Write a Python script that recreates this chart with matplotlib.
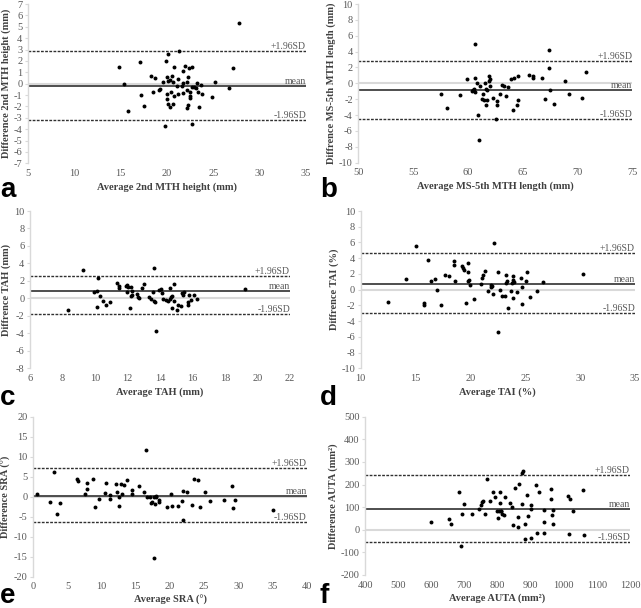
import matplotlib
matplotlib.use("Agg")
import matplotlib.pyplot as plt

plt.rcParams["axes.unicode_minus"] = False

# ---- panel a: 2nd MTH height ----
a_avg = [27.8, 21.3, 20.15, 14.86, 17.05, 19.93, 20.79, 21.9, 22.34, 22.66, 21.69, 27.16,
         15.4, 18.31, 18.74, 20.0, 20.5, 20.32, 20.15, 21.15, 22.3, 19.6, 20.68, 21.76,
         22.2, 21.1, 21.62, 22.7, 23.24, 23.63, 23.17, 25.18, 26.69, 17.2, 18.45, 19.17,
         19.24, 20.04, 20.47, 21.19, 21.69, 20.76, 22.2, 22.52, 22.88, 23.35, 23.78, 22.52,
         22.52, 24.86, 20.04, 17.52, 20.07, 20.29, 20.61, 22.12, 22.23, 23.49, 15.76, 19.82,
         22.73]
a_diff = [5.34, 2.88, 2.61, 1.44, 1.91, 2.0, 1.5, 1.53, 1.35, 1.47, 1.15, 1.35,
          -0.02, 0.71, 0.47, 0.59, 0.71, 0.33, 0.27, 0.39, 0.62, 0.15, 0.18, 0.06,
          0.18, -0.17, -0.17, -0.29, 0.06, -0.14, -0.35, 0.18, -0.37, -0.96, -0.73, -0.58,
          -0.46, -0.87, -0.73, -0.87, -0.78, -1.08, -0.58, -0.7, -0.29, -0.76, -0.87, -1.08,
          -1.25, -1.14, -1.31, -1.96, -1.81, -2.04, -1.75, -2.1, -1.87, -2.04, -2.42, -3.71,
          -3.54]
a_lines = [2.87, -0.17, -3.22]

# ---- panel b: MS-5th MTH length ----
b_avg = [60.62, 67.43, 67.4, 70.81, 57.52, 58.1, 59.25, 59.95, 60.68, 60.86, 61.14, 60.38,
         60.5, 60.59, 60.65, 61.35, 61.56, 61.66, 61.75, 61.96, 62.02, 61.9, 62.05, 61.26,
         61.5, 61.75, 61.66, 60.9, 61.05, 62.33, 62.66, 62.63, 62.6, 62.96, 63.15, 63.27,
         63.45, 63.63, 63.9, 64.18, 64.57, 64.12, 64.55, 64.51, 65.58, 65.91, 65.94, 66.73,
         67.53, 67.0, 67.86, 68.89, 69.2, 70.45]
b_diff = [4.99, 4.2, 1.93, 1.38, -1.31, -3.07, -1.48, 0.54, 0.71, 0.04, -0.34, -1.01,
          -0.89, -0.76, -1.1, -1.35, 0.08, -0.76, -0.89, 0.96, 0.58, 0.29, -0.3, -2.02,
          -2.07, -2.11, -2.78, -4.0, -7.11, -1.81, -2.19, -2.74, -4.46, -1.31, -0.17, -0.34,
          -1.64, -0.47, 0.54, 0.71, 0.92, -3.33, -2.15, -2.74, 1.09, 0.71, 0.88, 0.67,
          -0.85, -1.98, -2.57, 0.29, -1.35, -1.85]
b_lines = [2.81, -0.78, -4.55]

# ---- panel c: TAH ----
c_avg = [8.36, 9.24, 10.17, 9.92, 10.12, 10.29, 10.1, 10.47, 10.66, 10.95, 11.36, 11.46,
         11.46, 11.89, 11.97, 12.05, 12.22, 11.97, 12.28, 12.22, 12.26, 12.16, 12.61, 12.67,
         12.69, 12.91, 12.99, 13.35, 13.45, 13.61, 13.57, 13.61, 13.71, 13.78, 13.96, 14.08,
         14.15, 14.21, 14.37, 14.47, 14.64, 14.64, 14.86, 14.7, 14.72, 14.76, 14.88, 15.03,
         15.11, 15.27, 15.36, 15.42, 15.46, 15.72, 15.7, 15.77, 15.93, 16.07, 16.28, 19.23]
c_diff = [-1.28, 3.29, 2.34, 0.7, 0.89, 0.28, -0.98, -0.25, -0.71, -0.41, 1.8, 1.46,
          1.16, 1.38, 1.5, 1.31, 1.35, 0.7, 0.85, 0.28, 0.39, -1.06, 0.55, 0.17,
          0.05, 1.23, 1.61, 0.13, -0.06, 3.48, 0.7, -0.29, -0.37, -3.69, 1.0, 1.12,
          0.58, -0.03, -0.18, -0.25, -0.1, 1.16, 1.69, 0.16, -1.13, 0.24, -0.29, -1.32,
          -0.75, -0.86, 0.66, 0.36, 0.77, -0.41, -0.71, 0.36, -0.14, 0.36, -0.03, 1.12]
c_lines = [2.55, 0.87, -1.84]

# ---- panel d: TAI ----
d_avg = [12.49, 14.13, 15.04, 16.13, 16.44, 16.77, 16.95, 15.8, 15.8, 17.29, 17.68, 18.02,
         18.5, 18.53, 18.63, 19.2, 19.32, 19.39, 19.75, 19.78, 19.63, 19.75, 19.9, 19.99,
         20.3, 20.94, 21.06, 21.12, 21.36, 21.6, 21.85, 21.91, 21.97, 22.09, 22.18, 22.55,
         22.52, 22.73, 22.88, 23.15, 23.25, 23.31, 23.28, 23.46, 23.73, 23.79, 23.85, 23.91,
         23.94, 23.91, 24.22, 24.58, 24.7, 24.67, 25.04, 25.13, 25.46, 26.07, 26.65, 30.27]
d_diff = [-1.57, 1.36, 5.55, 3.81, 1.06, 1.31, 0.0, -1.74, -1.99, -1.95, 1.91, 1.78,
          3.64, 3.09, 1.06, 2.97, 2.71, 2.46, 3.39, 2.2, -1.65, 1.14, 1.27, 0.55,
          -1.14, 0.68, 1.44, 1.91, 2.33, -0.13, 0.55, 0.38, 0.51, -0.51, 5.98, 2.29,
          -5.38, 0.0, -0.76, -0.8, 1.87, 1.1, 0.81, -2.37, -0.17, 0.81, 1.78, 1.27,
          0.97, -1.06, -0.25, 1.53, 0.38, -1.78, 1.14, 2.29, -0.93, -0.13, 1.02, 2.03]
d_lines = [4.6, 0.7, -2.92]

# ---- panel e: SRA ----
e_avg = [0.49, 2.4, 3.08, 3.47, 3.86, 6.45, 6.49, 7.52, 7.86, 7.91, 8.79, 9.08,
         9.66, 10.45, 10.64, 11.18, 11.27, 12.05, 12.25, 12.54, 12.54, 12.88, 13.03, 13.23,
         13.71, 14.45, 14.49, 15.52, 16.15, 16.54, 16.69, 17.08, 17.18, 17.37, 17.66, 17.76,
         17.91, 18.0, 17.71, 18.45, 18.45, 19.57, 20.2, 20.3, 21.13, 21.76, 21.91, 21.91,
         22.49, 23.27, 23.47, 24.15, 24.35, 25.13, 25.91, 27.96, 29.03, 29.23, 29.52, 35.03]
e_diff = [0.67, -1.25, 6.09, -4.33, -1.5, 4.34, 3.92, 0.67, 1.84, 3.34, 4.42, -2.66,
          -0.5, 0.84, 3.34, -0.66, 0.34, 3.17, 1.25, -2.41, -0.16, 3.09, 0.59, 3.0,
          4.17, 1.67, 0.59, 2.59, 1.09, 11.67, -0.16, -0.16, -1.66, -1.25, -0.16, -1.83,
          0.0, 0.17, -15.41, -0.75, -1.33, -2.66, 0.59, -2.25, -2.25, -1.0, 1.5, -5.92,
          1.09, -2.16, 4.5, 4.17, -2.58, 1.17, -1.16, -0.83, 2.75, -2.83, -0.83, -3.25]
e_lines = [7.2, 0.2, -6.4]

# ---- panel f: AUTA ----
f_avg = [598, 654.5, 660.6, 682.7, 689.8, 692.8, 698.8, 724, 745.1, 749.1, 753.2, 756.2,
         761.2, 768.3, 778.3, 785.4, 792.4, 798.4, 803.5, 806.5, 808.5, 811.5, 809.5, 813.5,
         802.5, 821.6, 819.6, 837.7, 843.7, 847.7, 853.8, 863.9, 861.8, 861.8, 873.9, 877.9,
         872.9, 882, 884, 890, 893, 900, 902, 900, 916, 918, 925.2, 940.3, 939.3, 940.3,
         960.5, 962.5, 967.5, 965.5, 966.5, 1013.8, 1019.8, 1016.8, 1027.9, 1057, 1061]
f_diff = [35.5, 45.8, 25.2, 166.6, -73.6, 67.9, 115.1, 70.8, 91.5, 110.6, 121, 125.4,
          67.9, 225.6, 125.4, 166.6, 146, 82.6, 84.1, 165.2, 118, 84.1, 81.2, 70.8,
          53.2, 143, 66.4, 118, 101.8, 20.7, 185.8, 203.5, 56.1, 10.5, 249.2, 259.5,
          115.1, -42.6, 26.6, 154.8, 62, 90, 110.6, -36.7, 197.6, -13.1, 166.6, 85.6, 34, -13.1,
          134.2, 181.4, 87.1, 63.5, 25.2, 149, 134.2, -17.5, 81.2, 175.5, -22]
f_lines = [242, 91.5, -52]

SERIF = "Liberation Serif"
TICK_C = "#595959"
LABEL_C = "#404040"

panels = [
    # letter, rect (px), x, y, lines, x range/step, y range/step, xlabel, ylabel, letter pos
    ("a", [28, 4, 306, 163.3], a_avg, a_diff, a_lines, (5, 35, 5), (-7, 7, 1),
     "Average 2nd MTH height (mm)", "Difference 2nd MTH height (mm)", (0, 197)),
    ("b", [358.3, 4, 632.3, 162.7], b_avg, b_diff, b_lines, (50, 75, 5), (-10, 10, 2),
     "Average MS-5th MTH length (mm)", "Diffrence MS-5th MTH length (mm)", (320, 197)),
    ("c", [30, 211, 290, 368.3], c_avg, c_diff, c_lines, (6, 22, 2), (-8, 10, 2),
     "Average TAH (mm)", "Diffrence TAH (mm)", (0, 405)),
    ("d", [360.7, 211, 635, 368.3], d_avg, d_diff, d_lines, (10, 35, 5), (-10, 10, 2),
     "Average TAI (%)", "Diffrence TAI (%)", (320, 405)),
    ("e", [33.3, 416.7, 306.7, 576.7], e_avg, e_diff, e_lines, (0, 40, 5), (-20, 20, 5),
     "Average SRA (°)", "Difference SRA (°)", (0, 603)),
    ("f", [365, 416.7, 630, 575], f_avg, f_diff, f_lines, (400, 1200, 100), (-200, 500, 100),
     "Average AUTA (mm²)", "Difference AUTA (mm²)", (320, 603)),
]

W, H = 641, 608
fig = plt.figure(figsize=(W / 100, H / 100), dpi=100)

for letter, (x0, y0, x1, y1), xs, ys, lines, xr, yr, xlab, ylab, lpos in panels:
    ax = fig.add_axes([x0 / W, (H - y1) / H, (x1 - x0) / W, (y1 - y0) / H])
    ax.set_xlim(xr[0], xr[1])
    ax.set_ylim(yr[0], yr[1])
    ax.set_xticks(list(range(xr[0], xr[1] + 1, xr[2])))
    ax.set_yticks(list(range(yr[0], yr[1] + 1, yr[2])))
    for s in ("top", "right", "bottom"):
        ax.spines[s].set_visible(False)
    ax.spines["left"].set_color("#d9d9d9")
    ax.spines["left"].set_linewidth(1.0)
    ax.tick_params(axis="x", length=0, pad=4, labelsize=7.5, labelcolor=TICK_C)
    ax.tick_params(axis="y", length=2, width=0.8, color="#d9d9d9", pad=2,
                   labelsize=7.5, labelcolor=TICK_C)
    for lab in ax.get_xticklabels() + ax.get_yticklabels():
        lab.set_fontfamily(SERIF)

    ax.axhline(0, color="#d9d9d9", lw=1.5, zorder=1)
    up, mean, lo = lines
    ax.axhline(up, color="#303030", lw=1.0, ls=(0, (2, 1)), zorder=2)
    ax.axhline(lo, color="#303030", lw=1.0, ls=(0, (2, 1)), zorder=2)
    ax.axhline(mean, color="#404040", lw=1.3, zorder=2)
    ax.scatter(xs, ys, s=8, color="black", zorder=3, linewidths=0)

    ytr = ax.get_yaxis_transform()
    ax.text(1.0, up, "+1.96SD", transform=ytr, ha="right", va="bottom",
            fontsize=7, color=TICK_C, family=SERIF)
    ax.text(1.0, mean, "mean", transform=ytr, ha="right", va="bottom",
            fontsize=7, color=TICK_C, family=SERIF)
    ax.text(1.0, lo, "-1.96SD", transform=ytr, ha="right", va="bottom",
            fontsize=7, color=TICK_C, family=SERIF)

    ax.set_xlabel(xlab, fontsize=7.5, fontweight="bold", family=SERIF, color=LABEL_C, labelpad=3)
    ax.set_ylabel(ylab, fontsize=7.5, fontweight="bold", family=SERIF, color=LABEL_C, labelpad=2)

    fig.text(lpos[0] / W, (H - lpos[1]) / H, letter, fontsize=20, fontweight="bold",
             family="Liberation Sans", color="black", ha="left", va="baseline")

fig.savefig("out.png", dpi=100)
